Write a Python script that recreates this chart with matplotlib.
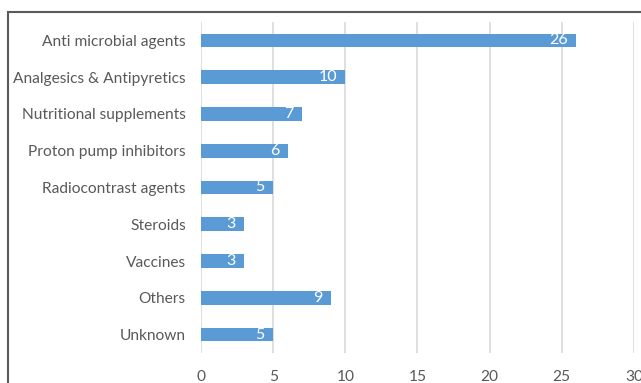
import matplotlib.pyplot as plt
from matplotlib.patches import Rectangle

categorias = ["Anti microbial agents", "Analgesics & Antipyretics",
              "Nutritional supplements", "Proton pump inhibitors",
              "Radiocontrast agents", "Steroids", "Vaccines", "Others",
              "Unknown"]
valores = [26, 10, 7, 6, 5, 3, 3, 9, 5]
ticks_x = [0, 5, 10, 15, 20, 25, 30]

plt.rcParams['font.family'] = ['Lato', 'DejaVu Sans']
cinza = '#595959'

fig = plt.figure(figsize=(6.41, 3.83), dpi=100)
ax = fig.add_axes([0.3136, 0.0783, 0.989 - 0.3136, 0.9426 - 0.0783])

pos = list(range(len(categorias)))
barras = ax.barh(pos, valores, height=0.37, color='#5B9BD5', zorder=3)

for b, v in zip(barras, valores):
    ax.annotate(str(v), (b.get_width(), b.get_y() + b.get_height() / 2),
                xytext=(-6, 0), textcoords='offset points',
                ha='right', va='center', color='white', fontsize=11.5,
                zorder=4)

ax.set_xlim(0, 30)
ax.set_ylim(len(categorias) - 0.5, -0.5)
ax.set_xticks(ticks_x)
ax.set_yticks(pos)
ax.set_yticklabels(categorias)
ax.grid(axis='x', color='#d9d9d9', linewidth=1.2, zorder=0)
ax.tick_params(axis='both', length=0, colors=cinza, labelsize=11.2)
ax.tick_params(axis='y', pad=11)
ax.tick_params(axis='x', pad=12)
for s in ax.spines.values():
    s.set_visible(False)

# moldura externa do grafico
fig.patches.append(Rectangle((8 / 641, -0.2), 1.2, 0.2 + 1 - 12 / 383,
                             transform=fig.transFigure, fill=False,
                             edgecolor='#5a5a5a', linewidth=1.5))

fig.savefig('out.png', dpi=100)
